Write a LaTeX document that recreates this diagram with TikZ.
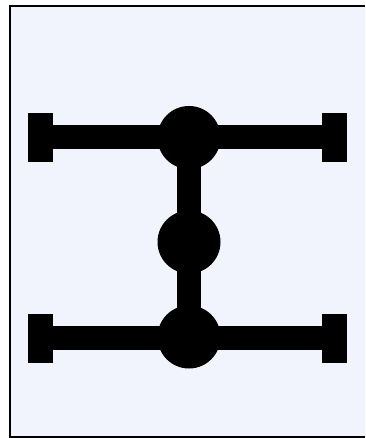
\documentclass[tikz,border=0pt]{standalone}
\usepackage{tikz}

\definecolor{panelbg}{RGB}{241,244,252}

\begin{document}
\begin{tikzpicture}[x=1pt, y=-1pt, line cap=butt, line join=miter,
    joint/.style={circle, fill=black, inner sep=0pt, minimum size=63pt},
    endcap/.style={rectangle, fill=black, inner sep=0pt, minimum width=25pt, minimum height=49pt},
    bar/.style={line width=24pt}]
  % --- Khung ---
  \useasboundingbox (0, 0) rectangle (365, 438);
  \fill[panelbg] (10, 6.5) rectangle (365, 436.5);
  \draw[line width=2pt] (365, 6.5) -- (10, 6.5) -- (10, 436.5) -- (365, 436.5);

  % --- Khớp tròn ---
  \node[joint] (Top) at (189, 137.5) {};
  \node[joint] (Mid) at (189, 242) {};
  \node[joint] (Bot) at (189, 337) {};

  % --- Đầu chặn ---
  \node[endcap] (TL) at (40.5, 137.5) {};
  \node[endcap] (TR) at (334.5, 137.5) {};
  \node[endcap] (BL) at (40.5, 338) {};
  \node[endcap] (BR) at (334.5, 338) {};

  % --- Thanh nối ---
  \draw[bar] (TL.center) -- (TR.center);
  \draw[bar] (BL.center) -- (BR.center);
  \draw[bar] (Top.center) -- (Mid.center) -- (Bot.center);
\end{tikzpicture}
\end{document}
